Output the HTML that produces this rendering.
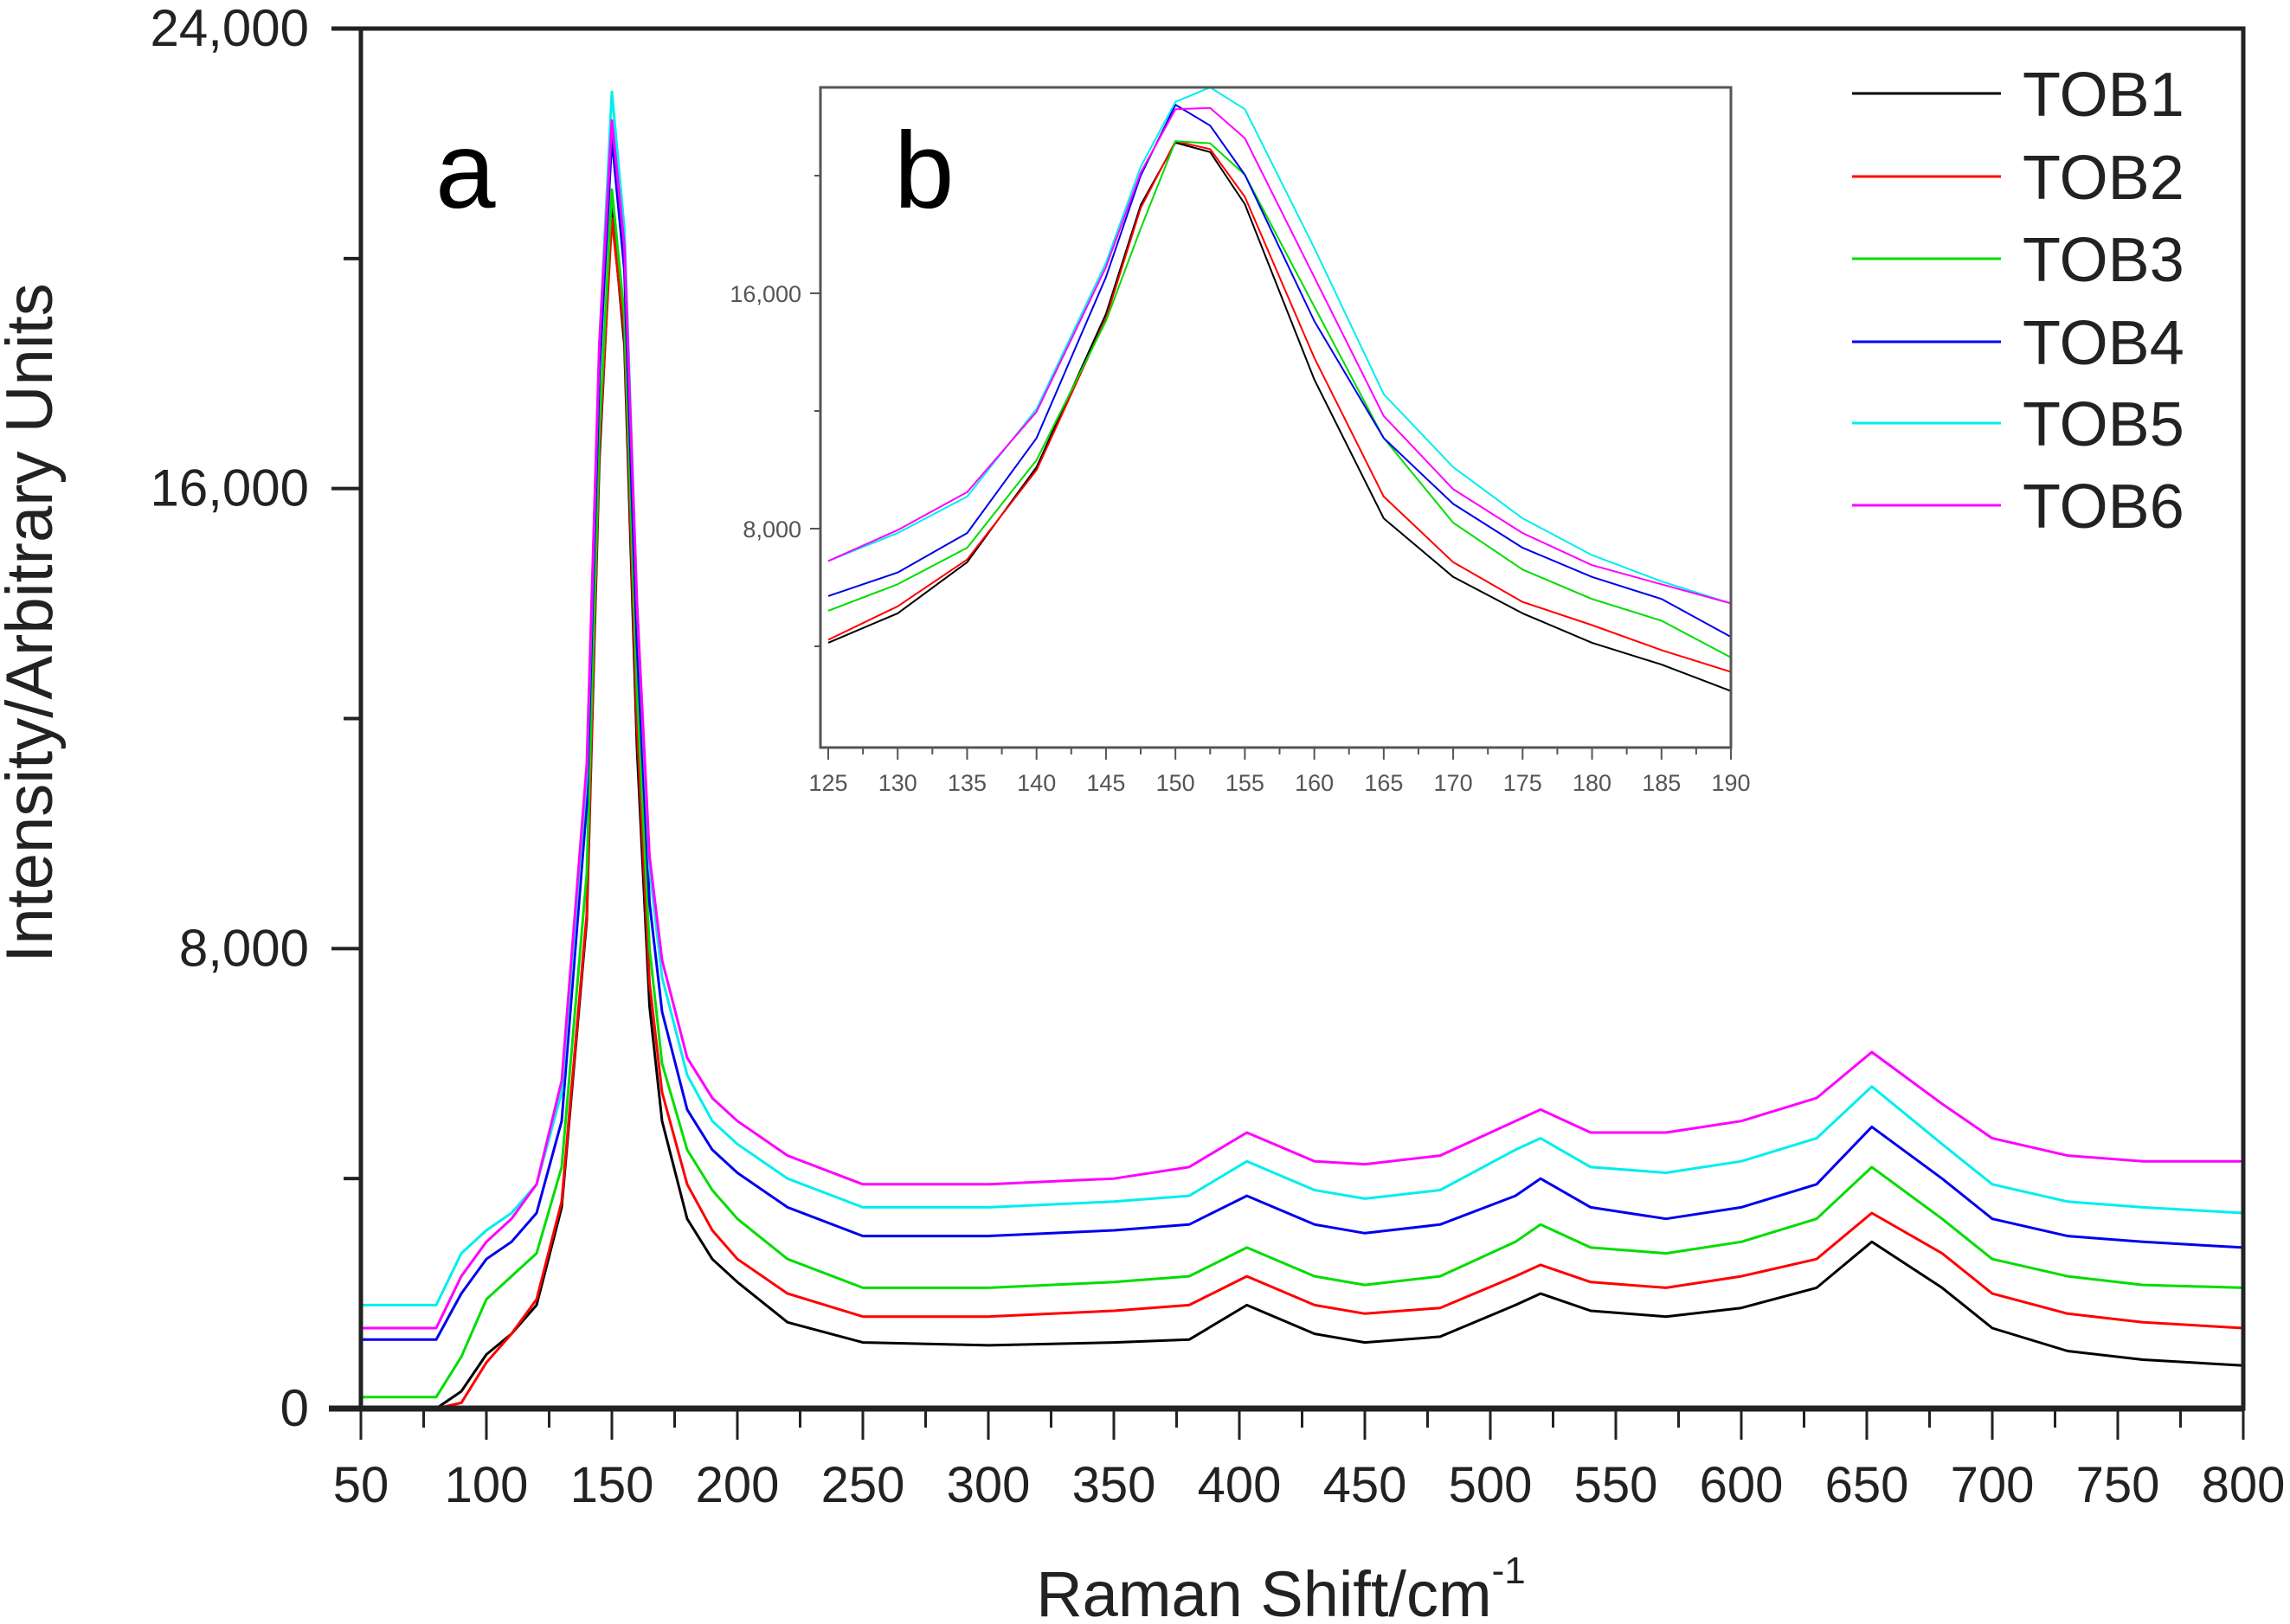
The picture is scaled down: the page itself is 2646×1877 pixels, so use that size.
<!DOCTYPE html>
<html><head><meta charset="utf-8"><style>
html,body{margin:0;padding:0;background:#fff;}
svg{display:block;font-family:"Liberation Sans",sans-serif;}
</style></head><body>
<svg id="chart" width="2646" height="1877" viewBox="0 0 2646 1877" xmlns="http://www.w3.org/2000/svg">
<rect width="2646" height="1877" fill="#fff"/>
<g id="main"></g>
<g id="inset"></g>
<g id="legend"></g>
<text x="0" y="0" transform="translate(60,720) rotate(-90)" text-anchor="middle" font-size="76" fill="#222">Intensity/Arbitrary Units</text>
<text x="1480" y="1868" text-anchor="middle" font-size="74" fill="#222">Raman Shift/cm<tspan dy="-38" font-size="44">-1</tspan></text>
<text x="503" y="240" font-size="125" fill="#000">a</text>
<text x="1033" y="240" font-size="125" fill="#000">b</text>
</svg>
<script>
const NS="http://www.w3.org/2000/svg";
const seriesNames=["TOB1","TOB2","TOB3","TOB4","TOB5","TOB6"];
const seriesColors=["#000000","#ff0000","#00dd00","#0000ee","#00eeee","#ff00ff"];
const xMain=[50,80,90,100,110,120,130,140,145,150,155,160,165,170,180,190,200,220,250,300,350,380,403,430,450,480,510,520,540,570,600,630,652,680,700,730,760,800];
const tob1=[0,0,300,940,1300,1800,3500,8500,16500,20900,18500,11500,7000,5000,3300,2600,2200,1500,1150,1100,1150,1200,1800,1300,1150,1250,1800,2000,1700,1600,1750,2100,2900,2100,1400,1000,850,750];
const tob2=[0,0,100,800,1300,1900,3600,8600,16700,20700,18700,11900,7400,5500,3900,3100,2600,2000,1600,1600,1700,1800,2300,1800,1650,1750,2300,2500,2200,2100,2300,2600,3400,2700,2000,1650,1500,1400];
const tob3=[200,200,900,1900,2300,2700,4200,9300,17000,21200,19000,12500,8000,6000,4500,3800,3300,2600,2100,2100,2200,2300,2800,2300,2150,2300,2900,3200,2800,2700,2900,3300,4200,3300,2600,2300,2150,2100];
const tob4=[1200,1200,2000,2600,2900,3400,5000,10500,18000,22100,19800,13300,8800,6900,5200,4500,4100,3500,3000,3000,3100,3200,3700,3200,3050,3200,3700,4000,3500,3300,3500,3900,4900,4000,3300,3000,2900,2800];
const tob5=[1800,1800,2700,3100,3400,3900,5500,11000,18500,22900,20500,14000,9400,7500,5800,5000,4600,4000,3500,3500,3600,3700,4300,3800,3650,3800,4500,4700,4200,4100,4300,4700,5600,4600,3900,3600,3500,3400];
const tob6=[1400,1400,2300,2900,3300,3900,5700,11200,18500,22400,20200,14000,9600,7800,6100,5400,5000,4400,3900,3900,4000,4200,4800,4300,4250,4400,5000,5200,4800,4800,5000,5400,6200,5300,4700,4400,4300,4300];
const xTickLabels=["50","100","150","200","250","300","350","400","450","500","550","600","650","700","750","800"];
const yTickValues=[0,8000,16000,24000];
const yTickLabels=["0","8,000","16,000","24,000"];
const xInset=[125,130,135,140,145,147.5,150,152.5,155,160,165,170,175,180,185,190];
const in1=[4120,5120,6860,10090,15300,19000,21120,20800,19030,13070,8350,6360,5120,4120,3380,2480];
const in2=[4220,5360,6950,9990,15150,18900,21170,20900,19280,13810,9090,6860,5510,4720,3870,3130];
const in3=[5210,6110,7350,10330,15060,18200,21170,21100,20030,15550,11080,8200,6610,5610,4870,3620];
const in4=[5710,6510,7850,11080,16550,20000,22410,21700,20030,15060,11080,8840,7350,6360,5610,4320];
const in5=[6900,7850,9090,12070,17040,20300,22510,23000,22260,17540,12570,10090,8350,7100,6210,5460];
const in6=[6900,7950,9240,11970,16890,20100,22260,22300,21270,16550,11830,9340,7850,6760,6110,5460];
const insetXTicks=["125","130","135","140","145","150","155","160","165","170","175","180","185","190"];
const insetYTickValues=[8000,16000];
const insetYTickLabels=["8,000","16,000"];

function mk(tag,attrs,parent){const e=document.createElementNS(NS,tag);for(const k in attrs)e.setAttribute(k,attrs[k]);parent.appendChild(e);return e;}

const L=417,R=2592,T=33,B=1628;
const sx=v=>L+(v-50)/(800-50)*(R-L);
const sy=v=>B-v/24000*(B-T);
const gm=document.getElementById('main');
const mainSeries=[tob1,tob2,tob3,tob4,tob5,tob6];
mainSeries.forEach((s,i)=>{
  const d=s.map((v,j)=>(j?'L':'M')+sx(xMain[j]).toFixed(1)+','+sy(Math.max(0,v)).toFixed(1)).join('');
  const p=mk('path',{d:d,fill:'none',stroke:seriesColors[i],'stroke-width':3,'stroke-linejoin':'round'},gm);
  
  
});
const frame=mk('path',{d:`M${L},${B}L${L},${T}L${R},${T}L${R},${B}L${L},${B}`,fill:'none',stroke:'#222','stroke-width':5},gm);


mk('line',{x1:383,y1:T,x2:L,y2:T,stroke:'#222','stroke-width':5},gm);
mk('line',{x1:380,y1:B,x2:R,y2:B,stroke:'#222','stroke-width':7},gm);
for(let v=50;v<=800;v+=25){
  const major=(v%50===0);
  mk('line',{x1:sx(v),y1:B,x2:sx(v),y2:B+(major?36:22),stroke:'#222','stroke-width':3},gm);
}
xTickLabels.forEach(t=>{
  const v=+t;
  const e=mk('text',{x:sx(v),y:B+108,'text-anchor':'middle','font-size':58,fill:'#222'},gm);
  e.textContent=t;
  
  
});
for(let v=0;v<=24000;v+=4000){
  const major=(v%8000===0);
  mk('line',{x1:L,y1:sy(v),x2:L-(major?34:20),y2:sy(v),stroke:'#222','stroke-width':4},gm);
}
yTickValues.forEach((v,i)=>{
  const e=mk('text',{x:357,y:sy(v)+20,'text-anchor':'end','font-size':60,fill:'#222'},gm);
  e.textContent=yTickLabels[i];
  
  
});

const iL=948,iR=2000,iT=101,iB=864;
const ix=v=>957+(v-125)/(190-125)*(2000-957);
const iy=v=>611-(v-8000)/8000*(611-339);
const gi=document.getElementById('inset');
const insetSeries=[in1,in2,in3,in4,in5,in6];
insetSeries.forEach((s,i)=>{
  const d=s.map((v,j)=>(j?'L':'M')+ix(xInset[j]).toFixed(1)+','+iy(v).toFixed(1)).join('');
  const p=mk('path',{d:d,fill:'none',stroke:seriesColors[i],'stroke-width':2,'stroke-linejoin':'round'},gi);
  
  
});
const ib=mk('rect',{x:iL,y:iT,width:iR-iL,height:iB-iT,fill:'none',stroke:'#555','stroke-width':3},gi);


for(let v=125;v<=190;v+=2.5){
  const major=(v%5===0);
  mk('line',{x1:ix(v),y1:iB,x2:ix(v),y2:iB+(major?14:8),stroke:'#555','stroke-width':2},gi);
}
insetXTicks.forEach(t=>{
  const e=mk('text',{x:ix(+t),y:iB+50,'text-anchor':'middle','font-size':27,fill:'#555'},gi);
  e.textContent=t;
  
  
});
for(let v=4000;v<=22000;v+=4000){
  mk('line',{x1:iL,y1:iy(v),x2:iL-(v%8000===0?12:7),y2:iy(v),stroke:'#555','stroke-width':2},gi);
}
insetYTickValues.forEach((v,i)=>{
  const e=mk('text',{x:926,y:iy(v)+10,'text-anchor':'end','font-size':27,fill:'#555'},gi);
  e.textContent=insetYTickLabels[i];
  
  
});

const gl=document.getElementById('legend');
const legendY=[108,204,299,395,489,584];
seriesNames.forEach((n,i)=>{
  const g=mk('g',{},gl);
  
  
  mk('line',{x1:2140,y1:legendY[i],x2:2312,y2:legendY[i],stroke:seriesColors[i],'stroke-width':3},g);
  const t=mk('text',{x:2337,y:legendY[i]+26,'font-size':72,fill:'#222'},g);
  t.textContent=n;
});
</script>
</body></html>
